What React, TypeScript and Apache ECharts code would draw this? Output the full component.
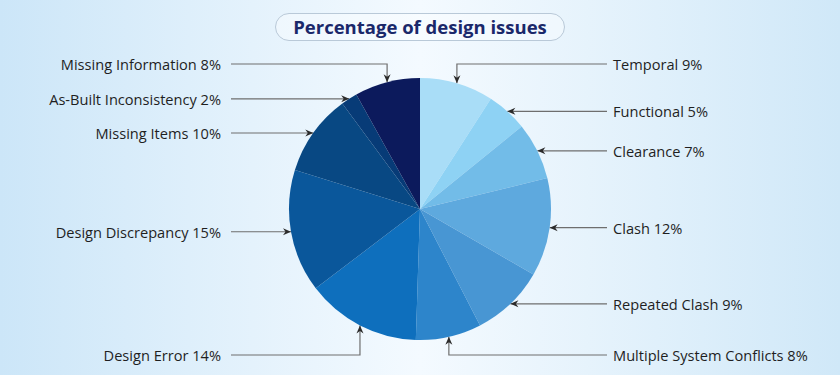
import React, { useEffect, useRef } from "react";
import * as echarts from "echarts";

const categories = [
  "Temporal",
  "Functional",
  "Clearance",
  "Clash",
  "Repeated Clash",
  "Multiple System Conflicts",
  "Design Error",
  "Design Discrepancy",
  "Missing Items",
  "As-Built Inconsistency",
  "Missing Information",
];
const values = [9, 5, 7, 12, 9, 8, 14, 15, 10, 2, 8];
const colors = [
  "#a9ddf7",
  "#8ed2f4",
  "#72bce8",
  "#5ea9de",
  "#4896d3",
  "#2d85cb",
  "#0e6fbd",
  "#0a579b",
  "#084883",
  "#073b77",
  "#0c1a5c",
];

const CX = 420;
const CY = 209;
const R = 131;
const TOP_Y = 64;
const BOTTOM_Y = 355;

function geometry(i: number) {
  const total = values.reduce((a, b) => a + b, 0);
  let before = 0;
  for (let k = 0; k < i; k++) before += values[k];
  const a = ((before + values[i] / 2) / total) * Math.PI * 2;
  const px = CX + R * Math.sin(a);
  const py = CY - R * Math.cos(a);
  const right = Math.sin(a) > 0;
  let mode = "h";
  let ly = py;
  if (py < 90) {
    mode = "top";
    ly = TOP_Y;
  } else if (py > 315) {
    mode = "bottom";
    ly = BOTTOM_Y;
  }
  return { px, py, right, mode, ly };
}

function arrow(i: number) {
  const g = geometry(i);
  const L = 8;
  const W = 3.5;
  let pts: number[][];
  if (g.mode === "top") {
    pts = [[g.px, g.py], [g.px - W, g.py - L], [g.px, g.py - L + 2.5], [g.px + W, g.py - L]];
  } else if (g.mode === "bottom") {
    pts = [[g.px, g.py], [g.px - W, g.py + L], [g.px, g.py + L - 2.5], [g.px + W, g.py + L]];
  } else {
    const d = g.right ? 1 : -1;
    pts = [[g.px, g.py], [g.px + d * L, g.py - W], [g.px + d * (L - 2.5), g.py], [g.px + d * L, g.py + W]];
  }
  return {
    type: "polygon",
    shape: { points: pts },
    style: { fill: "#2b2b2b" },
    z: 10,
  };
}

export default function App() {
  const ref = useRef<HTMLDivElement>(null);
  useEffect(() => {
    if (!ref.current) return;
    const chart = echarts.init(ref.current, null, { renderer: "svg" });
    chart.setOption({
      animation: false,
      title: {
        text: "Percentage of design issues",
        left: "center",
        top: 13,
        padding: [4, 18, 5, 18],
        borderColor: "#b9c9d8",
        borderWidth: 1,
        borderRadius: 15,
        backgroundColor: "rgba(255,255,255,0.35)",
        textStyle: {
          fontFamily: "Open Sans",
          fontSize: 18.5,
          fontWeight: "bold",
          color: "#1a286a",
        },
      },
      graphic: categories.map((_, i) => arrow(i)),
      series: [
        {
          type: "pie",
          center: [CX, CY],
          radius: R,
          startAngle: 90,
          clockwise: true,
          data: categories.map((c, i) => ({
            name: c,
            value: values[i],
            itemStyle: { color: colors[i] },
          })),
          label: {
            show: true,
            position: "outside",
            formatter: (p: any) => `${p.name} ${p.value}%`,
            fontFamily: "Open Sans",
            fontSize: 14.6,
            color: "#1f1f1f",
          },
          labelLine: {
            show: true,
            lineStyle: { color: "#6e6e6e", width: 1.2 },
          },
          labelLayout: (params: any) => {
            const g = geometry(params.dataIndex);
            const endX = g.right ? 607 : 231;
            const pts =
              g.mode === "h"
                ? [[g.px, g.py], [g.px, g.py], [endX, g.py]]
                : [[g.px, g.py], [g.px, g.ly], [endX, g.ly]];
            return {
              x: g.right ? 613 : 221,
              y: g.ly,
              align: g.right ? "left" : "right",
              verticalAlign: "middle",
              labelLinePoints: pts,
            };
          },
        },
      ],
    });
    return () => chart.dispose();
  }, []);
  return (
    <div
      style={{
        position: "fixed",
        left: 0,
        top: 0,
        width: 840,
        height: 375,
        background:
          "linear-gradient(90deg, #cce6f8 0%, #e4f2fc 30%, #f4faff 50%, #e6f3fc 70%, #d0e8f8 100%)",
      }}
    >
      <div ref={ref} style={{ width: 840, height: 375 }} />
    </div>
  );
}
